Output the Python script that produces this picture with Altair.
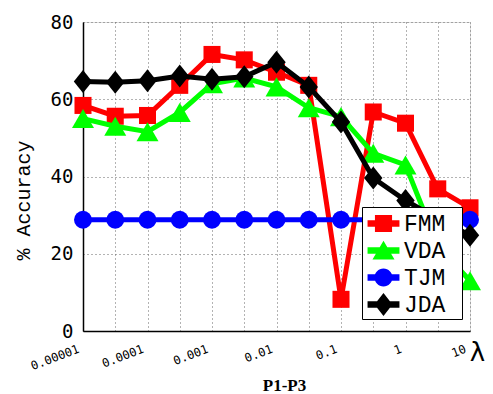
import json
import altair as alt
import pandas as pd

# ---- data ----
tick_labels = ["0.00001", "0.0001", "0.001", "0.01", "0.1", "1", "10"]
positions = list(range(13))  # half-decade steps from 1e-5 to 10

series_names = ["FMM", "VDA", "TJM", "JDA"]
fmm = [58.4, 55.6, 55.8, 63.6, 71.6, 70.2, 67.0, 63.6, 8.2, 56.7, 53.8, 36.8, 31.9]
vda = [55.0, 53.0, 51.6, 56.6, 64.0, 65.5, 63.2, 57.8, 55.5, 46.0, 43.0, 22.0, 13.0]
tjm = [28.8, 28.8, 28.8, 28.8, 28.8, 28.8, 28.8, 28.8, 28.8, 28.8, 28.8, 28.8, 28.8]
jda = [64.6, 64.4, 64.8, 66.0, 65.2, 65.8, 69.6, 63.2, 54.1, 39.6, 33.8, 29.0, 24.8]

values = {"FMM": fmm, "VDA": vda, "TJM": tjm, "JDA": jda}
rows = []
for name in series_names:
    for p, v in zip(positions, values[name]):
        rows.append({"pos": p, "series": name, "acc": v})
df = pd.DataFrame(rows)

# ---- styles ----
colors = {"FMM": "#ff0000", "VDA": "#00ff00", "TJM": "#0000ff", "JDA": "#000000"}
shapes = {
    "FMM": "square",
    "VDA": "triangle-up",
    "TJM": "circle",
    "JDA": "M0,-1L0.8,0L0,1L-0.8,0Z",
}
sizes = {"FMM": 290, "VDA": 484, "TJM": 324, "JDA": 529}

line_path = "M-1.1,-0.22L1.1,-0.22L1.1,0.22L-1.1,0.22Z"
legend_shapes = [
    line_path + "M-0.59,-0.59L0.59,-0.59L0.59,0.59L-0.59,0.59Z",
    line_path + "M0,-0.68L0.76,0.62L-0.76,0.62Z",
    line_path + "M-0.62,0A0.62,0.62 0 1,1 0.62,0A0.62,0.62 0 1,1 -0.62,0Z",
    line_path + "M0,-0.8L0.62,0L0,0.8L-0.62,0Z",
]

label_expr = (
    "datum.value % 2 == 0 ? " + json.dumps(tick_labels) + "[datum.value / 2] : ''"
)

x_enc = alt.X(
    "pos:Q",
    scale=alt.Scale(domain=[0, 12], nice=False, zero=False),
    axis=alt.Axis(
        values=positions,
        labelExpr=label_expr,
        grid=True,
        gridDash=[1, 3],
        gridColor="#666666",
        gridWidth=1,
        ticks=False,
        labelAngle=339,
        labelAlign="right",
        labelBaseline="middle",
        labelPadding=17,
        labelOffset=-5,
        labelFont="DejaVu Sans Mono",
        labelFontSize=12,
        labelColor="black",
        labelOverlap=False,
        labelFlush=False,
        domainColor="black",
        domainWidth=1.5,
        title="λ",
        titleX=394,
        titleY=21,
        titleFont="DejaVu Sans",
        titleFontSize=26,
        titleFontWeight="normal",
        titleColor="black",
        titleAlign="center",
        titleBaseline="middle",
    ),
)
y_enc = alt.Y(
    "acc:Q",
    scale=alt.Scale(domain=[0, 80], nice=False),
    axis=alt.Axis(
        values=[0, 20, 40, 60, 80],
        grid=True,
        gridDash=[1, 3],
        gridColor="#666666",
        gridWidth=1,
        ticks=False,
        labelPadding=10,
        labelFont="DejaVu Sans Mono",
        labelFontSize=19,
        labelColor="black",
        domainColor="black",
        domainWidth=1.5,
        title="% Accuracy",
        titleFont="Liberation Mono",
        titleFontSize=20,
        titleFontWeight="normal",
        titleColor="black",
        titleAngle=270,
        titleX=-60,
        titleY=178,
        titleAlign="center",
        titleBaseline="middle",
    ),
)

layers = []
for name in series_names:
    sub = alt.Chart(df).transform_filter(alt.datum.series == name)
    layers.append(
        sub.mark_line(color=colors[name], strokeWidth=5).encode(x=x_enc, y=y_enc)
    )
    layers.append(
        sub.mark_point(
            shape=shapes[name], size=sizes[name], filled=True,
            color=colors[name], opacity=1, strokeWidth=0,
        ).encode(x=x_enc, y=y_enc)
    )

# legend only: no marks drawn (empty after filter), entries come from the explicit domain
legend_layer = (
    alt.Chart(df)
    .transform_filter(alt.datum.pos < 0)
    .mark_point(filled=True, opacity=1)
    .encode(
        x=x_enc,
        y=y_enc,
        color=alt.Color(
            "series:N",
            scale=alt.Scale(domain=series_names, range=[colors[n] for n in series_names]),
            legend=alt.Legend(
                orient="none",
                legendX=279,
                legendY=185,
                title=None,
                fillColor="white",
                strokeColor="black",
                padding=2,
                symbolOffset=5,
                rowPadding=0,
                labelOffset=6,
                labelFont="Liberation Mono",
                labelFontSize=23,
                labelColor="black",
                # right-hand blank room inside the box (kept from trimming by a zero-width char)
                labelExpr="datum.label + '\u00a0\u200b'",
                symbolSize=841,
                symbolStrokeWidth=0,
                symbolOpacity=1,
            ),
        ),
        shape=alt.Shape(
            "series:N",
            scale=alt.Scale(domain=series_names, range=legend_shapes),
        ),
    )
)
layers.append(legend_layer)

chart = (
    alt.layer(*layers)
    .properties(
        width=387,
        height=309,
        padding={"left": 75, "top": 14, "right": 15, "bottom": 64},
        autosize=alt.AutoSizeParams(type="none"),
        title=alt.TitleParams(
            "P1-P3",
            orient="bottom",
            font="Liberation Serif",
            fontSize=17,
            fontWeight="bold",
            color="black",
            anchor="middle",
            dx=8,
            offset=6,
        ),
    )
    .configure_view(stroke="black", strokeWidth=1.5)
    .configure(background="white")
)

chart.save("out.html", embed_options={"renderer": "svg", "actions": False})
